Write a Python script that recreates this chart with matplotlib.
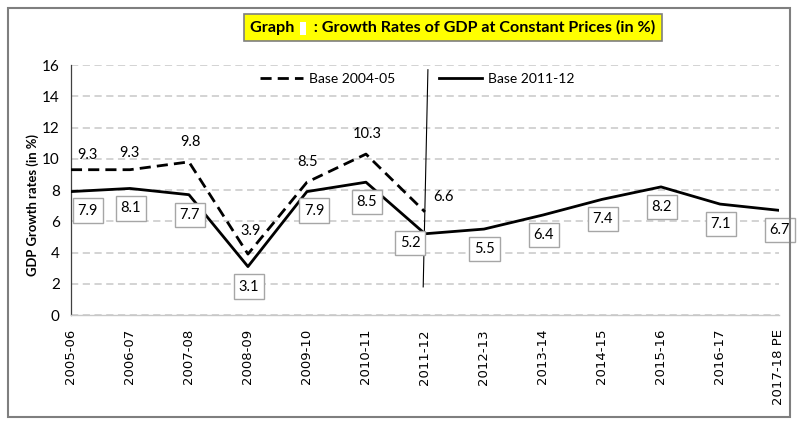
import matplotlib.pyplot as plt
from matplotlib.patches import Rectangle

# data
years = ["2005-06", "2006-07", "2007-08", "2008-09", "2009-10", "2010-11",
         "2011-12", "2012-13", "2013-14", "2014-15", "2015-16", "2016-17",
         "2017-18 PE"]
base_2004 = [9.3, 9.3, 9.8, 3.9, 8.5, 10.3, 6.6]
base_2011 = [7.9, 8.1, 7.7, 3.1, 7.9, 8.5, 5.2, 5.5, 6.4, 7.4, 8.2, 7.1, 6.7]

# label nudges (pixels) where the default placement does not fit
old_offsets = {0: (17, 15), 1: (0, 17), 3: (3, 23), 6: (19, 15)}
new_offsets = {0: (17, -19), 4: (7, -19), 6: (-15, -9)}

LABEL_FONT = "Lato"
W, H = 806, 425


def main():
    fig = plt.figure(figsize=(W / 100, H / 100), dpi=100)
    ax = fig.add_axes([0.088, 0.2588, 0.8785, 0.5882])

    x_all = list(range(len(years)))
    x_old = x_all[:len(base_2004)]

    ax.plot(x_old, base_2004, color="black", lw=2, ls=(0, (4, 2.2)),
            label="Base 2004-05", zorder=3)
    ax.plot(x_all, base_2011, color="black", lw=2, label="Base 2011-12",
            zorder=3)

    # separator between the two series bases
    ax.plot([5.97, 6.05], [1.8, 15.7], color="black", lw=0.8, zorder=2)

    for i, v in enumerate(base_2004):
        dx, dy = old_offsets.get(i, (1, 20))
        ax.annotate(f"{v:.1f}", (i, v), xytext=(dx, dy),
                    textcoords="offset pixels", ha="center", va="center",
                    fontsize=10.5, family=LABEL_FONT, zorder=5)

    for i, v in enumerate(base_2011):
        dx, dy = new_offsets.get(i, (1, -20))
        ax.annotate(f"{v:.1f}", (i, v), xytext=(dx, dy),
                    textcoords="offset pixels", ha="center", va="center",
                    fontsize=10.5, family=LABEL_FONT, zorder=5,
                    bbox=dict(boxstyle="square,pad=0.35", fc="white",
                              ec="#a6a6a6", lw=1))

    ax.set_xlim(0, len(years) - 1)
    ax.set_ylim(0, 16)
    ax.set_yticks(range(0, 17, 2))
    ax.set_xticks(x_all)
    ax.set_xticklabels(years, rotation=90, fontsize=9.5, family="DejaVu Sans")
    for lab in ax.get_yticklabels():
        lab.set_family(LABEL_FONT)
        lab.set_fontsize(11)
    ax.tick_params(length=0, pad=8)
    ax.tick_params(axis="x", pad=10)

    ax.grid(axis="y", color="#d0d0d0", lw=1.3, ls=(0, (4, 2.5)))
    ax.set_axisbelow(True)
    for side in ("top", "right"):
        ax.spines[side].set_visible(False)
    ax.spines["left"].set_color("#404040")
    ax.spines["left"].set_linewidth(0.9)
    ax.spines["bottom"].set_color("#c8c8c8")
    ax.spines["bottom"].set_linewidth(1)

    ax.set_ylabel("GDP Growth rates (in %)", fontsize=9.4, weight="bold",
                  family=LABEL_FONT)
    ax.yaxis.set_label_coords(-0.045, 0.44)

    ax.legend(loc="upper center", bbox_to_anchor=(0.489, 1.0), ncol=2,
              frameon=False, handlelength=3.1, handletextpad=0.4,
              columnspacing=3.2,
              prop={"family": LABEL_FONT, "size": 10},
              borderaxespad=0.2)

    # outer frame
    fig.patches.append(Rectangle((8 / W, 8 / H), 782 / W, 409 / H,
                                 transform=fig.transFigure, fill=False,
                                 ec="#7f7f7f", lw=1.5))

    # title with yellow box; the chart number is blanked out in the original
    tx, ty = 250 / W, 1 - 27.5 / H
    fig.text(tx, ty,
             "Graph     : Growth Rates of GDP at Constant Prices (in %)",
             ha="left", va="center", fontsize=11.6, weight="bold",
             family=LABEL_FONT,
             bbox=dict(boxstyle="square,pad=0.4", fc="#ffff00",
                       ec="#7f7f7f", lw=1.2))
    probe = fig.text(tx, ty, "Graph ", ha="left", va="center",
                     fontsize=11.6, weight="bold", family=LABEL_FONT,
                     alpha=0)
    fig.canvas.draw()
    end = probe.get_window_extent().x1
    fig.patches.append(Rectangle(((end + 2) / W, 1 - 35 / H), 6 / W, 13 / H,
                                 transform=fig.transFigure, fc="white",
                                 ec="none", zorder=10))

    fig.savefig("out.png", dpi=100)
    plt.close(fig)


if __name__ == "__main__":
    main()
